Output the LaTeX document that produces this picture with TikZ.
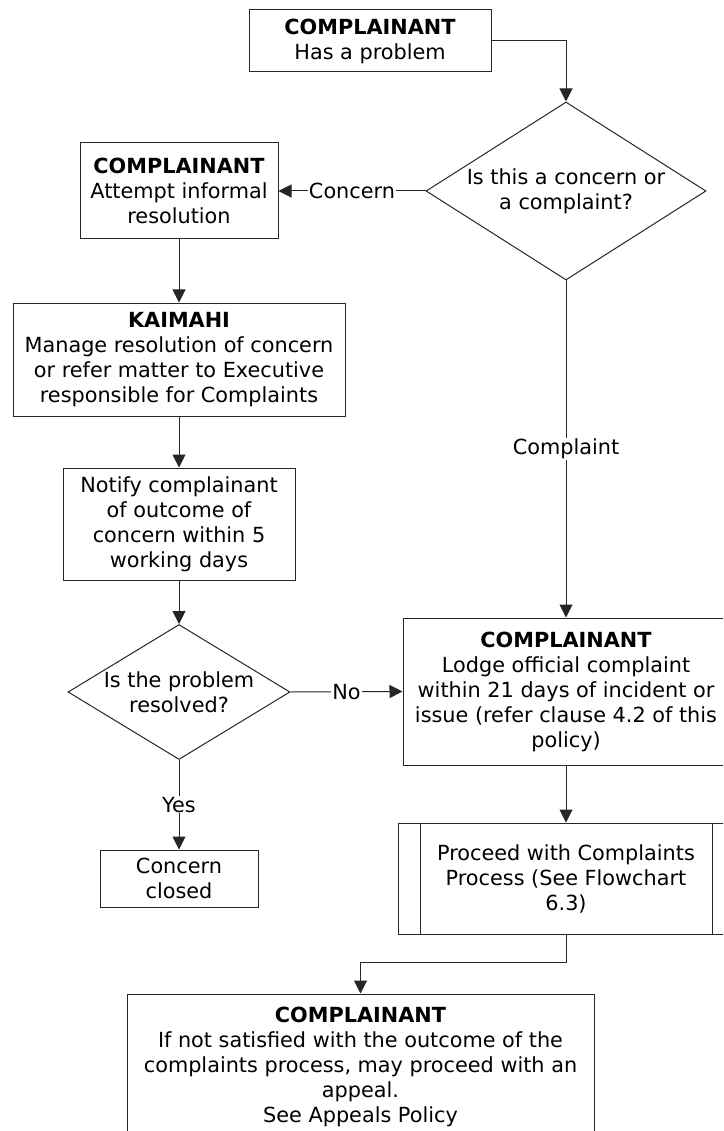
\documentclass[tikz,border=0pt]{standalone}
\usepackage{fontspec}
\setmainfont{DejaVu Sans}
\usetikzlibrary{shapes.geometric,arrows.meta,calc}
\tikzset{
  txt/.style={font=\fontsize{20.8}{25}\selectfont, align=center, inner sep=0pt},
  boxnode/.style={txt, draw=black!85, line width=1pt, minimum width=#1},
  dia/.style={draw=black!85, line width=1pt, diamond, inner sep=0pt},
  conn/.style={draw=black!85, line width=1pt, -{Triangle[length=13pt,width=13pt]}},
  lbl/.style={txt, fill=white, inner sep=1pt}
}
\begin{document}
\begin{tikzpicture}[x=1pt,y=-1pt]
\useasboundingbox (0,0) rectangle (723,1131);
\clip (0,0) rectangle (723,1131);
\fill[white] (0,0) rectangle (723,1131);
% nodes
\node[boxnode=242, minimum height=62] (b1) at (370,41) {\textbf{COMPLAINANT}\\Has a problem};
\node[dia, minimum width=280, minimum height=178] (d1) at (566,191) {};
\node[txt] (d1t) at (d1.center) {Is this a concern or\\a complaint?};
\node[boxnode=198, minimum height=96] (b2) at (179,191) {\textbf{COMPLAINANT}\\Attempt informal\\resolution};
\node[boxnode=332, minimum height=113] (b3) at (179,359.5) {\textbf{KAIMAHI}\\Manage resolution of concern\\or refer matter to Executive\\responsible for Complaints};
\node[boxnode=232, minimum height=112] (b4) at (179,524) {Notify complainant\\of outcome of\\concern within 5\\working days};
\node[dia, minimum width=222, minimum height=135] (d2) at (179,692) {};
\node[txt] (d2t) at (d2.center) {Is the problem\\resolved?};
\node[boxnode=158, minimum height=57] (b6) at (179,878.5) {Concern\\closed};
\node[boxnode=326, minimum height=147] (b5) at (566,691.5) {\textbf{COMPLAINANT}\\Lodge official complaint\\within 21 days of incident or\\issue (refer clause 4.2 of this\\policy)};
\node[boxnode=335, minimum height=111] (b7) at (566,878.5) {Proceed with Complaints\\Process (See Flowchart\\6.3)};
\draw[draw=black!85, line width=1pt] ([xshift=22pt]b7.north west) -- ([xshift=22pt]b7.south west);
\draw[draw=black!85, line width=1pt] ([xshift=-22pt]b7.north east) -- ([xshift=-22pt]b7.south east);
\node[boxnode=467, minimum height=146] (b8) at (360.5,1067) {\textbf{COMPLAINANT}\\If not satisfied with the outcome of the\\complaints process, may proceed with an\\appeal.\\See Appeals Policy};
% connectors
\draw[conn] (b1.east) -| (d1.north);
\draw[conn] (d1.west) -- node[lbl] {Concern} (b2.east);
\draw[conn] (b2.south) -- (b3.north);
\draw[conn] (b3.south) -- (b4.north);
\draw[conn] (b4.south) -- (d2.north);
\draw[conn] (d2.east) -- node[lbl] {No} (b5.west);
\draw[conn] (d2.south) -- node[lbl] {Yes} (b6.north);
\draw[conn] (d1.south) -- node[lbl] {Complaint} (b5.north);
\draw[conn] (b5.south) -- (b7.north);
\coordinate (bend) at ($(b7.south)+(0,28)$);
\draw[conn] (b7.south) -- (bend) -| (b8.north);
\end{tikzpicture}
\end{document}
